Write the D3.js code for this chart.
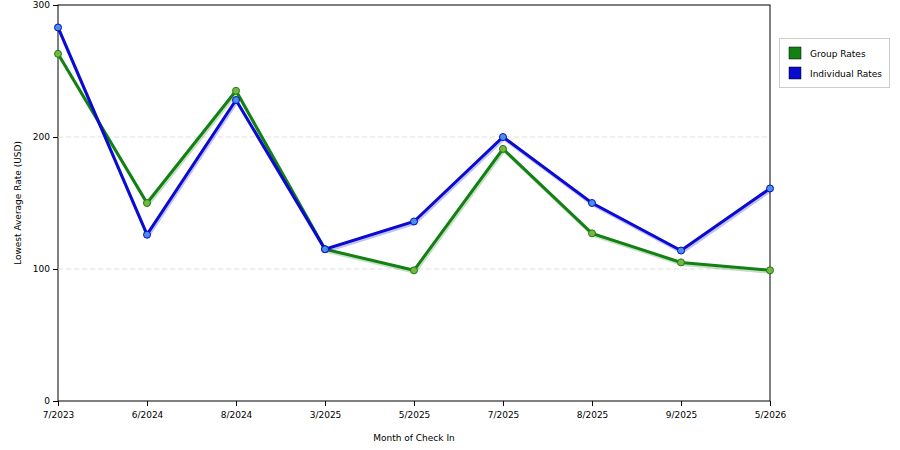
<!DOCTYPE html>
<html><head><meta charset="utf-8">
<script src="https://cdn.jsdelivr.net/npm/d3@7/dist/d3.min.js"></script>
<style>body{margin:0;background:#fff}text{font-family:"DejaVu Sans",sans-serif;font-size:9px;fill:#000}</style>
</head><body><svg id="c" width="900" height="450"></svg>
<script>
const categories=["7/2023","6/2024","8/2024","3/2025","5/2025","7/2025","8/2025","9/2025","5/2026"];
const groupRates=[263,150,235,115,99,191,127,105,99];
const individualRates=[283,126,228,115,136,200,150,114,161];
const yTicks=[0,100,200,300];
const svg=d3.select("#c");
const L=58,R=770,T=5,B=401;
const x=d3.scalePoint().domain(categories).range([L,R]);
const y=d3.scaleLinear().domain([0,300]).range([B,T]);
svg.append("rect").attr("x",L).attr("y",T).attr("width",R-L).attr("height",B-T).attr("fill","none").attr("stroke","#000").attr("stroke-width",1);
svg.selectAll(".g").data([100,200]).join("line").attr("x1",L).attr("x2",R).attr("y1",d=>y(d)).attr("y2",d=>y(d)).attr("stroke","#ddd").attr("stroke-dasharray","5,3");
svg.append("g").attr("transform",`translate(0,${B})`).call(d3.axisBottom(x).tickSize(5).tickSizeOuter(0)).call(g=>{g.select(".domain").remove();g.selectAll("text").attr("dy","1em").style("font-size","9px").style("font-family","DejaVu Sans")});
svg.append("g").attr("transform",`translate(${L},0)`).call(d3.axisLeft(y).tickValues(yTicks).tickSize(5)).call(g=>{g.select(".domain").remove();g.selectAll("text").style("font-size","9px").style("font-family","DejaVu Sans")});
svg.append("text").attr("x",414).attr("y",441).attr("text-anchor","middle").text("Month of Check In");
svg.append("text").attr("transform","translate(21,203) rotate(-90)").attr("text-anchor","middle").text("Lowest Average Rate (USD)");
const series=[{v:groupRates,c:"#128012",p:"#7cb342"},{v:individualRates,c:"#0a0ad2",p:"#4a90e2"}];
const line=d3.line().x((d,i)=>x(categories[i])).y(d=>y(d));
series.forEach(s=>{
 svg.append("path").datum(s.v).attr("d",line).attr("fill","none").attr("stroke",s.c).attr("stroke-opacity",0.25).attr("stroke-width",3).attr("transform","translate(1,2)");
 svg.append("path").datum(s.v).attr("d",line).attr("fill","none").attr("stroke",s.c).attr("stroke-width",3);
 svg.selectAll(null).data(s.v).join("circle").attr("cx",(d,i)=>x(categories[i])).attr("cy",d=>y(d)).attr("r",3.5).attr("fill",s.p).attr("stroke",s.c).attr("stroke-width",1);
});
svg.append("rect").attr("x",779.5).attr("y",38.5).attr("width",110).attr("height",49).attr("fill","#fff").attr("stroke","#ccc");
[["Group Rates","#128012"],["Individual Rates","#0a0ad2"]].forEach((d,i)=>{
 svg.append("rect").attr("x",789).attr("y",47+i*20).attr("width",12).attr("height",12).attr("fill",d[1]).attr("stroke","#000").attr("stroke-width",0.5);
 svg.append("text").attr("x",810).attr("y",57+i*20).text(d[0]);
});
</script></body></html>
